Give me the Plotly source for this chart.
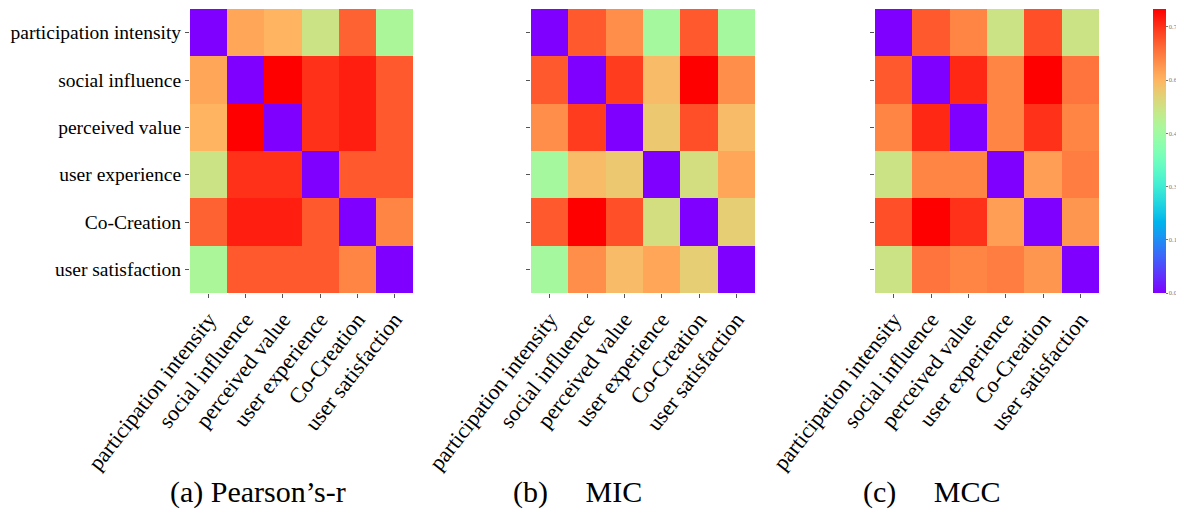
import math
import plotly.graph_objects as go

labels = ["participation intensity", "social influence", "perceived value",
          "user experience", "Co-Creation", "user satisfaction"]

pearson = [
    [0.00, 0.62, 0.60, 0.52, 0.70, 0.47],
    [0.62, 0.00, 0.80, 0.75, 0.77, 0.71],
    [0.60, 0.80, 0.00, 0.75, 0.77, 0.71],
    [0.52, 0.75, 0.75, 0.00, 0.71, 0.71],
    [0.70, 0.77, 0.77, 0.71, 0.00, 0.66],
    [0.47, 0.71, 0.71, 0.71, 0.66, 0.00],
]

mic = [
    [0.00, 0.71, 0.65, 0.46, 0.71, 0.46],
    [0.71, 0.00, 0.74, 0.59, 0.80, 0.65],
    [0.65, 0.74, 0.00, 0.57, 0.72, 0.59],
    [0.46, 0.59, 0.57, 0.00, 0.53, 0.62],
    [0.71, 0.80, 0.72, 0.53, 0.00, 0.56],
    [0.46, 0.65, 0.59, 0.62, 0.56, 0.00],
]

mcc = [
    [0.00, 0.71, 0.66, 0.52, 0.72, 0.52],
    [0.71, 0.00, 0.76, 0.66, 0.80, 0.68],
    [0.66, 0.76, 0.00, 0.66, 0.75, 0.66],
    [0.52, 0.66, 0.66, 0.00, 0.63, 0.67],
    [0.72, 0.80, 0.75, 0.63, 0.00, 0.64],
    [0.52, 0.68, 0.66, 0.67, 0.64, 0.00],
]

NB = "\u00a0" * 5
subtitles = ["(a) Pearson\u2019s-r", "(b)" + NB + "MIC", "(c)" + NB + "MCC"]
cbar_ticks = [0.0, 0.15, 0.30, 0.45, 0.60, 0.75]


def rainbow(x):
    r = min(1.0, abs(2 * x - 0.5))
    g = max(0.0, math.sin(math.pi * x))
    b = max(0.0, math.cos(math.pi * x / 2))
    return "rgb(%d,%d,%d)" % (round(r * 255), round(g * 255), round(b * 255))


colorscale = [[i / 40, rainbow(i / 40)] for i in range(41)]

# the page body has an 8px margin, so the figure is drawn 8px in from the corner
OFF = 8
W, H = 1184 - OFF, 515 - OFF
boxes = [(190 - OFF, 413 - OFF), (531 - OFF, 755 - OFF), (875 - OFF, 1099 - OFF)]
y_top, y_bot = 9 - OFF, 293 - OFF
ydom = [1 - y_bot / H, 1 - y_top / H]

serif = "Liberation Serif"
fig = go.Figure()
for i, (z, (x0, x1)) in enumerate(zip([pearson, mic, mcc], boxes)):
    suf = "" if i == 0 else str(i + 1)
    fig.add_trace(go.Heatmap(
        z=z, x=labels, y=labels, xaxis="x" + suf, yaxis="y" + suf,
        colorscale=colorscale, zmin=0, zmax=0.8,
        showscale=(i == 2),
        colorbar=dict(
            x=(1153 - OFF) / W, xanchor="left", thickness=13, xpad=0, ypad=0,
            lenmode="pixels", len=y_bot - y_top,
            y=1 - (y_top + y_bot) / 2 / H, yanchor="middle",
            tickvals=cbar_ticks, tickformat=".2f",
            tickfont=dict(size=6.5, color="#777"), ticks="outside", ticklen=2,
            tickcolor="#777", outlinewidth=0,
        ),
    ))
    fig.layout["xaxis" + suf] = dict(
        domain=[x0 / W, x1 / W], anchor="y" + suf, tickangle=-52,
        ticks="outside", ticklen=4, tickcolor="#555", automargin=False,
        tickfont=dict(family=serif, size=22, color="black"),
        showgrid=False, zeroline=False, showline=False,
    )
    fig.layout["yaxis" + suf] = dict(
        domain=ydom, anchor="x" + suf, autorange="reversed",
        ticks="outside", ticklen=4, tickcolor="#555", automargin=False,
        showticklabels=(i == 0),
        tickfont=dict(family=serif, size=19.5, color="black"),
        showgrid=False, zeroline=False, showline=False,
    )

sub_x = [258, 577, 932]
for t, sx in zip(subtitles, sub_x):
    fig.add_annotation(
        text=t, x=(sx - OFF) / W, y=1 - (492 - OFF) / H, xref="paper", yref="paper",
        xanchor="center", yanchor="middle", showarrow=False,
        font=dict(family=serif, size=30, color="black"),
    )

fig.update_layout(
    width=W, height=H, margin=dict(l=0, r=0, t=0, b=0, autoexpand=False),
    paper_bgcolor="white", plot_bgcolor="white",
    font=dict(family=serif),
)
fig.write_html("out.html")
